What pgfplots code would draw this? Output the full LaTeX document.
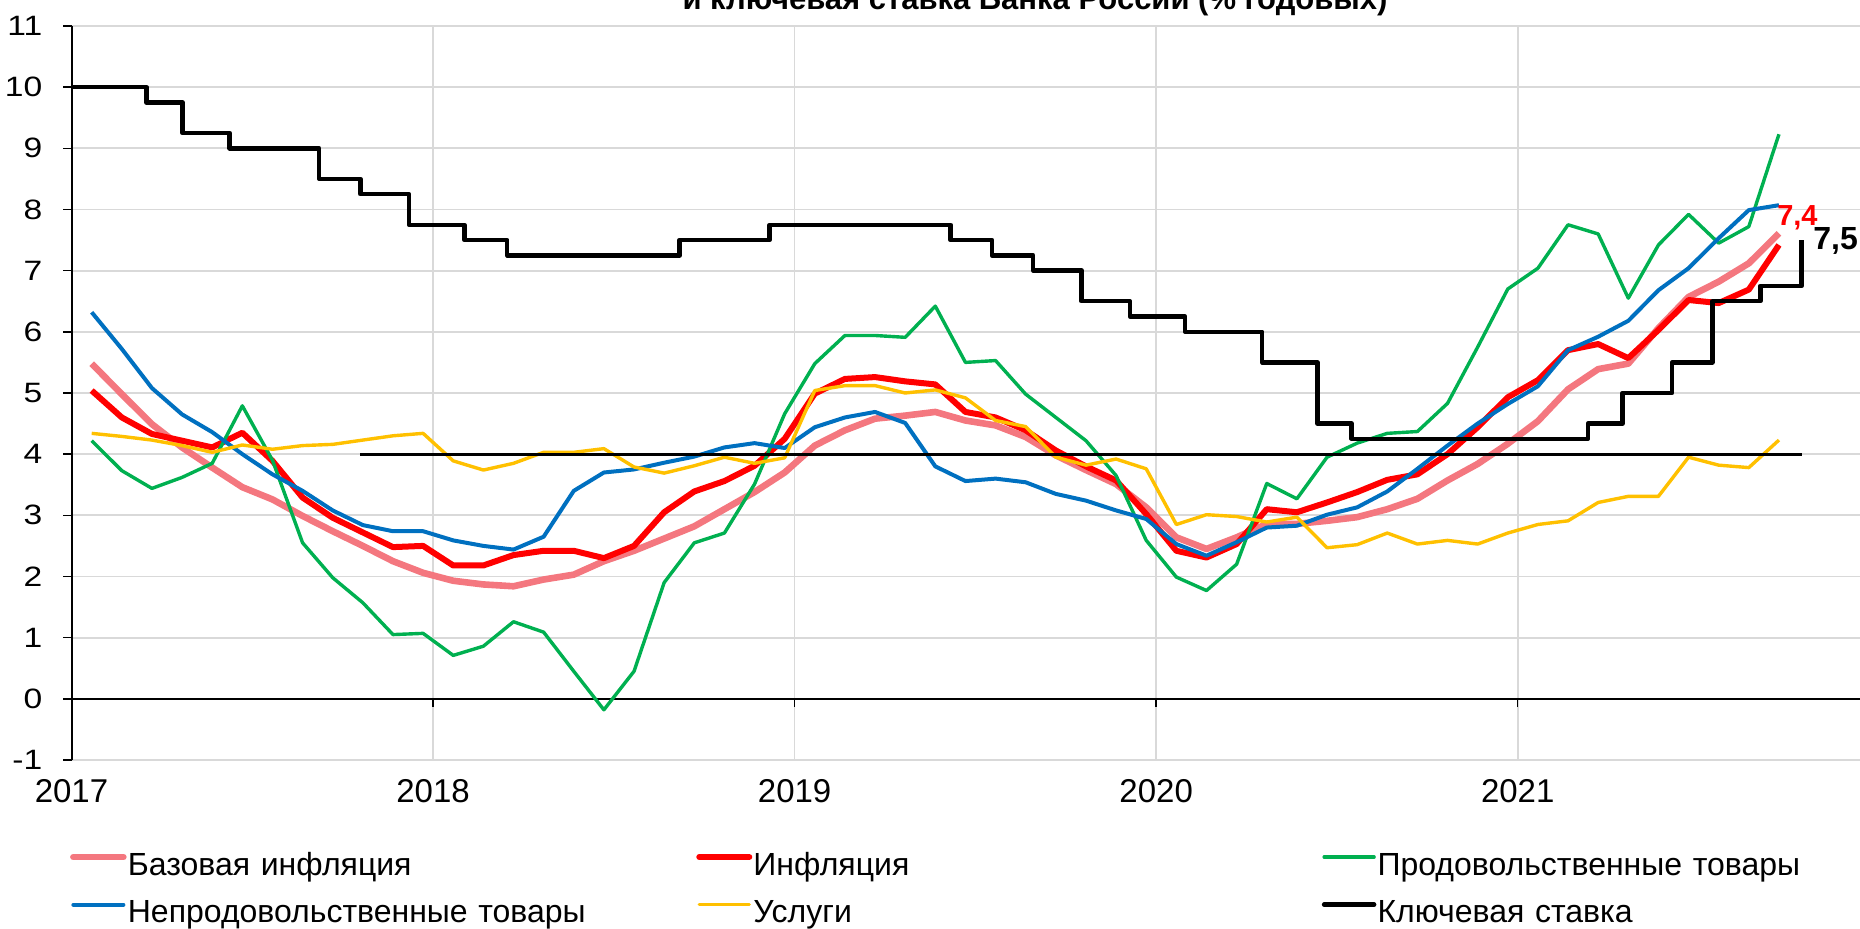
\documentclass[border=0pt]{standalone}
\usepackage{fontspec}
\setmainfont{Liberation Sans}
\newfontfamily\yfont{Liberation Sans}[FakeStretch=1.2]
\usepackage{pgfplots}
\pgfplotsset{compat=1.18}
\usepackage{pgfplotstable}

\definecolor{cpink}{HTML}{F4777F}
\definecolor{cred}{HTML}{FF0000}
\definecolor{cgreen}{HTML}{00B050}
\definecolor{cblue}{HTML}{0070C0}
\definecolor{cyellow}{HTML}{FFC000}
\definecolor{cgrid}{HTML}{D9D9D9}

% m = month index (0 = Jan 2017)
\pgfplotstableread{
m core cpi food nonfood serv
0 5.48 5.04 4.22 6.32 4.34
1 4.98 4.60 3.73 5.72 4.29
2 4.49 4.33 3.44 5.08 4.23
3 4.11 4.22 3.62 4.65 4.14
4 3.78 4.11 3.85 4.36 4.03
5 3.46 4.35 4.79 4.00 4.15
6 3.26 3.89 3.90 3.67 4.08
7 2.99 3.29 2.55 3.40 4.14
8 2.74 2.96 1.98 3.08 4.16
9 2.50 2.72 1.57 2.84 4.23
10 2.25 2.48 1.05 2.74 4.30
11 2.06 2.50 1.07 2.74 4.34
12 1.93 2.18 0.71 2.59 3.89
13 1.87 2.18 0.86 2.50 3.74
14 1.84 2.35 1.26 2.44 3.85
15 1.95 2.42 1.09 2.65 4.03
16 2.03 2.42 0.45 3.40 4.03
17 2.25 2.30 -0.18 3.70 4.09
18 2.42 2.50 0.45 3.75 3.79
19 2.62 3.05 1.90 3.86 3.69
20 2.82 3.39 2.55 3.96 3.81
21 3.10 3.56 2.71 4.11 3.95
22 3.38 3.81 3.51 4.18 3.85
23 3.70 4.25 4.66 4.10 3.94
24 4.14 4.99 5.48 4.44 5.04
25 4.39 5.23 5.94 4.60 5.12
26 4.58 5.26 5.94 4.69 5.12
27 4.63 5.19 5.91 4.51 5.00
28 4.69 5.14 6.42 3.80 5.05
29 4.55 4.69 5.50 3.56 4.92
30 4.47 4.60 5.53 3.60 4.55
31 4.28 4.39 4.98 3.54 4.45
32 3.98 4.06 4.60 3.35 3.95
33 3.74 3.80 4.22 3.24 3.82
34 3.51 3.57 3.65 3.08 3.92
35 3.13 3.02 2.59 2.94 3.76
36 2.64 2.42 1.99 2.53 2.85
37 2.45 2.31 1.77 2.34 3.01
38 2.64 2.53 2.20 2.56 2.98
39 2.86 3.10 3.52 2.80 2.89
40 2.86 3.05 3.27 2.83 2.97
41 2.91 3.21 3.95 3.01 2.47
42 2.97 3.38 4.18 3.13 2.52
43 3.10 3.58 4.34 3.39 2.71
44 3.27 3.67 4.37 3.76 2.53
45 3.57 4.00 4.83 4.14 2.59
46 3.84 4.44 5.75 4.50 2.53
47 4.17 4.93 6.70 4.82 2.71
48 4.54 5.21 7.04 5.11 2.85
49 5.06 5.70 7.75 5.70 2.91
50 5.39 5.80 7.60 5.92 3.21
51 5.48 5.57 6.55 6.18 3.31
52 6.06 6.03 7.42 6.68 3.31
53 6.57 6.52 7.92 7.04 3.95
54 6.82 6.47 7.45 7.53 3.82
55 7.12 6.69 7.72 7.99 3.78
56 7.61 7.42 9.23 8.07 4.23
}\monthly

% key rate: x in months from start of 2017 axis, value at change
\pgfplotstableread{
x v
0 10
2.49 9.75
3.68 9.25
5.25 9.0
8.22 8.5
9.59 8.25
11.2 7.75
13.04 7.5
14.46 7.25
20.18 7.5
23.17 7.75
29.18 7.5
30.55 7.25
31.92 7.0
33.52 6.5
35.13 6.25
36.96 6.0
39.52 5.5
41.35 4.5
42.49 4.25
50.33 4.5
51.48 5.0
53.12 5.5
54.46 6.5
56.05 6.75
57.42 7.5
}\keyrate

\begin{document}
\begin{tikzpicture}
\begin{axis}[
  at={(35.75pt,84.5pt)}, anchor=south west,
  width=894.25pt, height=367pt, scale only axis,
  xmin=0, xmax=59.36, ymin=-1, ymax=11,
  axis x line*=bottom, axis y line*=left,
  x axis line style={draw=none},
  y axis line style={black, line width=1pt},
  xtick={0,12,24,36,48}, xticklabels={2017,2018,2019,2020,2021},
  ytick={-1,0,...,11}, yticklabels={-1,0,1,2,3,4,5,6,7,8,9,10,11},
  xmajorgrids, ymajorgrids,
  major grid style={cgrid, line width=0.85pt},
  tick align=outside, major tick length=4.25pt,
  xtick style={draw=none},
  ytick style={black, line width=0.75pt},
  extra y ticks={0}, extra y tick labels={},
  extra y tick style={grid=major, major grid style={black, line width=1pt}},
  xticklabel style={font=\fontsize{16.5}{19}\selectfont, anchor=base, inner sep=0pt, yshift=-17pt},
  yticklabel style={font=\yfont\fontsize{14}{16}\selectfont, anchor=east, inner sep=0pt, xshift=-10.15pt},
  clip=false,
  legend columns=3,
  legend cell align=left,
  legend style={draw=none, fill=none, at={(-0.0008,-0.1254)}, anchor=north west,
    inner sep=0pt, outer sep=0pt, row sep=8.85pt,
    font=\fontsize{16}{18}\selectfont,
    nodes={inner sep=0pt, text height=11.5pt, text depth=3.5pt, text width=284.2pt, align=left},
    /tikz/every odd column/.append style={column sep=0.6pt}},
  legend image code/.code={\draw[#1, line cap=round] (0pt,5pt) -- (25pt,5pt);},
  every axis plot/.append style={line join=round},
]
\addplot[cpink, line width=3.3pt] table[x expr=\thisrow{m}+0.67, y=core] {\monthly};
\addlegendentry{Базовая инфляция}
\addplot[cred, line width=3pt] table[x expr=\thisrow{m}+0.67, y=cpi] {\monthly};
\addlegendentry{Инфляция}
\addplot[cgreen, line width=1.7pt] table[x expr=\thisrow{m}+0.67, y=food] {\monthly};
\addlegendentry{Продовольственные товары}
\addplot[cblue, line width=2pt] table[x expr=\thisrow{m}+0.67, y=nonfood] {\monthly};
\addlegendentry{Непродовольственные товары}
\addplot[cyellow, line width=1.7pt] table[x expr=\thisrow{m}+0.67, y=serv] {\monthly};
\addlegendentry{Услуги}
\addplot[black, line width=2.25pt, const plot mark left] table[x=x, y=v] {\keyrate};
\addlegendentry{Ключевая ставка}
\addplot[black, line width=1.35pt, forget plot] coordinates {(9.59,4) (57.45,4)};

\pgfplotsinvokeforeach{12,24,36,48}{
  \draw[black, line width=0.75pt] (axis cs:#1,0) -- ([yshift=-4.25pt]axis cs:#1,0);
}
\node[anchor=west, inner sep=0pt, text=cred, font=\bfseries\fontsize{14.5}{16}\selectfont] at (axis cs:56.6,7.86) {7,4};
\node[anchor=west, inner sep=0pt, font=\bfseries\fontsize{16}{18}\selectfont] at (axis cs:57.8,7.48) {7,5};
\end{axis}
\node[anchor=base, font=\bfseries\fontsize{15.5}{18}\selectfont] at (517.5pt,459.5pt) {и ключевая ставка Банка России (\% годовых)};
\pgfresetboundingbox
\path[use as bounding box] (0,0) rectangle (930pt,464.5pt);
\end{tikzpicture}
\end{document}
